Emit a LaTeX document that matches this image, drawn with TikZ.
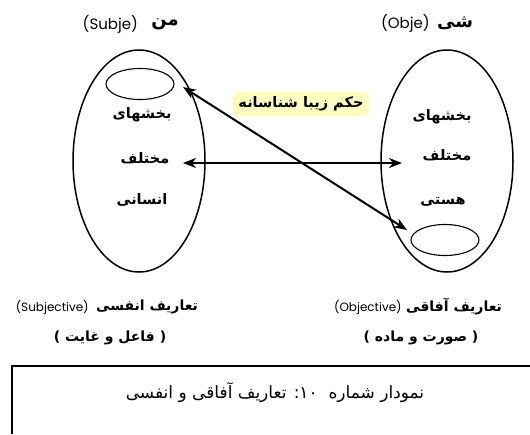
\documentclass[tikz,border=0pt]{standalone}
\usepackage{fontspec}
\setmainfont{DejaVu Sans}
\newfontfamily\arabicfont[Script=Arabic]{DejaVu Sans}
\newfontfamily\latinfont{Poppins}
\TeXXeTstate=1
\usetikzlibrary{arrows.meta,positioning}
\usetikzlibrary{shapes.geometric}
\tikzstyle{bigset}=[ellipse,draw,line width=1.5pt,minimum width=132pt,minimum height=222pt,inner sep=0pt]
\tikzstyle{subset}=[ellipse,draw,line width=1.1pt,minimum width=68pt,minimum height=31pt,inner sep=0pt]
\tikzstyle{parttext}=[font=\arabicfont\bfseries\fontsize{14.5}{16}\selectfont,inner sep=0pt]
\tikzstyle{headtext}=[font=\arabicfont\bfseries\fontsize{18}{20}\selectfont,inner sep=0pt]
\tikzstyle{headlatin}=[font=\latinfont\fontsize{15}{17}\selectfont,inner sep=0pt]
\tikzstyle{deftext}=[font=\arabicfont\bfseries\fontsize{14}{16}\selectfont,inner sep=0pt]
\tikzstyle{deflatin}=[font=\latinfont\fontsize{12}{14}\selectfont,inner sep=0pt]
\tikzstyle{edge}=[draw,line width=2pt,{Stealth[length=13pt,width=10pt,inset=4pt]}-{Stealth[length=13pt,width=10pt,inset=4pt]}]

\begin{document}
\begin{tikzpicture}[x=1pt,y=-1pt]
    \useasboundingbox (0,0) rectangle (530,434);
    % the two big sets and the small sets inside them
    \node[bigset] (subject) at (139,161) {};
    \node[bigset] (object) at (447,161) {};
    \node[subset] (subjcore) at (140,84) {};
    \node[subset] (objcore) at (445,240) {};
    % headings above the sets
    \node[headtext] (subjname) at (165,24) {\beginR من\endR};
    \node[headlatin,left=13pt of subjname] (subjlatin) {(Subje)};
    \node[headtext] (objname) at (455,23) {\beginR شی\endR};
    \node[headlatin,left=7pt of objname] (objlatin) {(Obje)};
    % texts inside the sets
    \foreach \pos/\name/\txt in {{(142,115)/subjA/بخشهای}, {(145,158)/subjB/مختلف}, {(142,200)/subjC/انسانی},
                                 {(442,117)/objA/بخشهای}, {(447,155)/objB/مختلف}, {(443,202)/objC/هستی}}
        \node[parttext] (\name) at \pos {\beginR\txt\endR};
    % arrow ends
    \coordinate (hleft) at (183,163);
    \coordinate (hright) at (402,163);
    \coordinate (dleft) at (183,87);
    \coordinate (dright) at (407,230);
    \path[edge] (hleft) -- (hright);
    \path[edge] (dleft) -- (dright);
    \node[parttext,fill=yellow!25,rounded corners=6pt,inner xsep=6pt,inner ysep=5pt] (judge) at (301,104) {\beginR حکم زیبا شناسانه\endR};
    % definitions under the sets
    \node[deftext] (subjdef) at (147,307) {\beginR تعاریف انفسی\endR};
    \node[deflatin,left=7pt of subjdef] (subjdeflatin) {(Subjective)};
    \node[deftext] (subjpair) at (110,338) {) \beginR فاعل و غایت\endR{} (};
    \node[deftext] (objdef) at (454,307) {\beginR تعاریف آفاقی\endR};
    \node[deflatin,left=4pt of objdef] (objdeflatin) {(Objective)};
    \node[deftext] (objpair) at (421,338) {) \beginR صورت و ماده\endR{} (};
    % caption box, open to the right and below
    \coordinate (boxcorner) at (12,366);
    \draw[line width=1.2pt] (530,366) -- (boxcorner) -- (12,434);
    \node[font=\arabicfont\fontsize{17}{19}\selectfont,inner sep=0pt] (caption) at (275,393)
        {\beginR نمودار شماره \ \beginL۱۰\endL: تعاریف آفاقی و انفسی\endR};
\end{tikzpicture}
\end{document}
